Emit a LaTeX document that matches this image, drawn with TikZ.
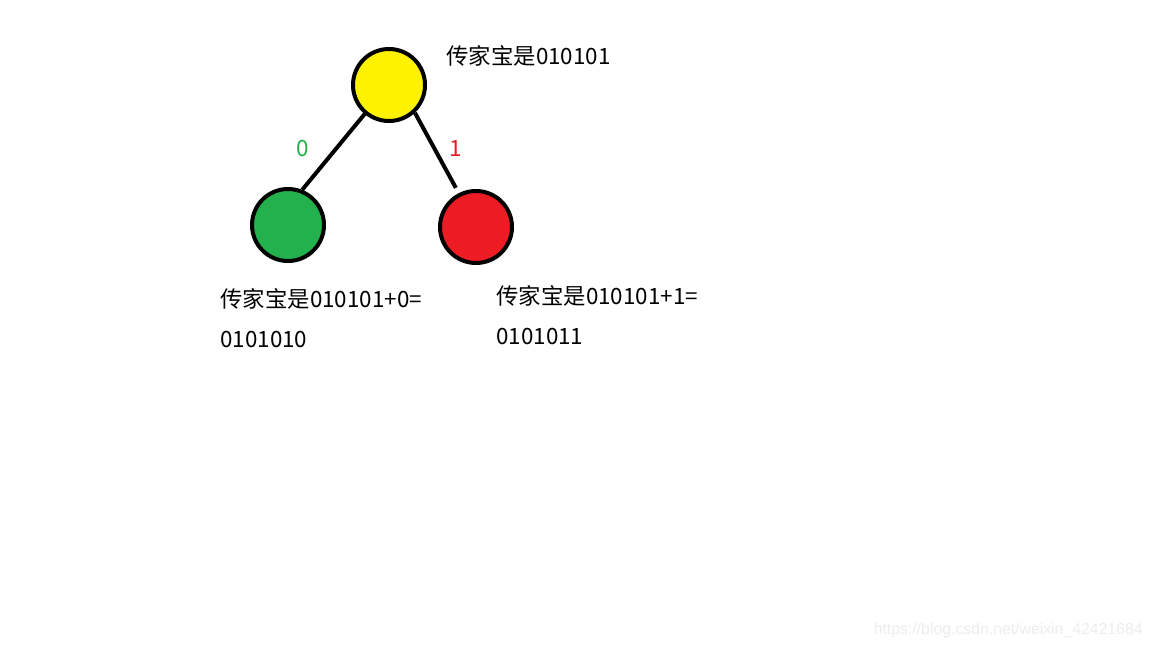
\documentclass[tikz,border=0pt]{standalone}
\usepackage{fontspec}
\setmainfont{Noto Sans CJK SC}
\newfontfamily\markfont{Liberation Sans}
\definecolor{treeyellow}{HTML}{FFF200}
\definecolor{treegreen}{HTML}{22B14C}
\definecolor{treered}{HTML}{ED1C24}
\definecolor{marktext}{HTML}{EDEDED}

\begin{document}
\begin{tikzpicture}[x=0.5pt, y=-0.5pt,
    ball/.style={circle, draw=black, line width=2pt, minimum size=36pt, inner sep=0pt},
    edge/.style={line width=2pt, draw=black},
    note/.style={font=\fontsize{11.2}{20}\selectfont, inner sep=0pt, align=left}]
    \useasboundingbox[fill=white] (0,0) rectangle (1152,648);

    % Root node
    \node[ball, fill=treeyellow] (root) at (389,85) {};
    \node[note, anchor=base west] (rootnote) at (446,64) {传家宝是010101};

    % Left child
    \node[ball, fill=treegreen] (left) at (288,225) {};
    \draw[edge] (root.230) -- (left.68);
    \node[note, text=treegreen] (bitzero) at (303,149) {0};
    \node[note, anchor=base west] (leftnote) at (220,347)
        {传家宝是010101+0=\\0101010};

    % Right child
    \node[ball, fill=treered] (right) at (476,227) {};
    \draw[edge, shorten >=3pt] (root.313) -- (right.117);
    \node[note, text=treered] (bitone) at (456,149) {1};
    \node[note, anchor=base west] (rightnote) at (496,344)
        {传家宝是010101+1=\\0101011};

    % Watermark
    \node[text=marktext, font=\markfont\fontsize{7.9}{9}\selectfont, inner sep=0pt, anchor=east] (mark) at (1143,630)
        {https://blog.csdn.net/weixin\_42421684};
\end{tikzpicture}
\end{document}
